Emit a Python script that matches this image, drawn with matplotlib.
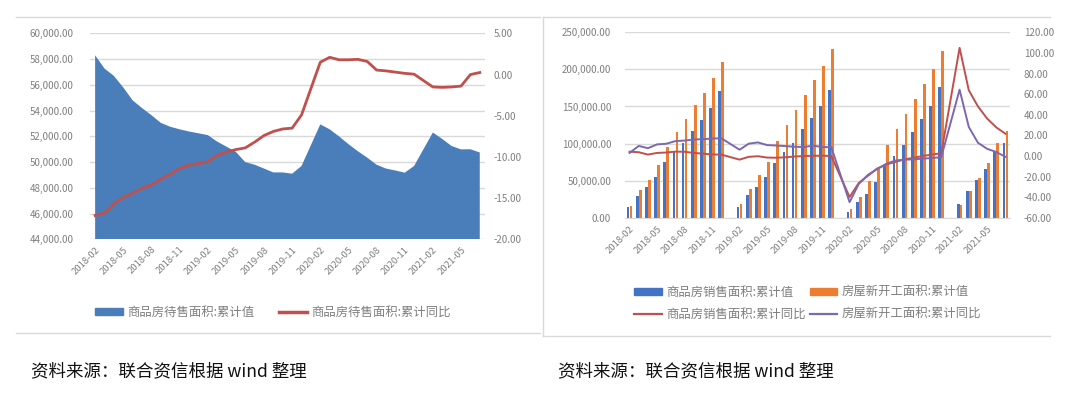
import matplotlib
matplotlib.use('Agg')
import matplotlib.pyplot as plt
import numpy as np
import pandas as pd
from matplotlib.lines import Line2D
from matplotlib.patches import Patch

plt.rcParams['font.family'] = ['Noto Sans CJK SC', 'DejaVu Sans']

# ---- categories: monthly 2018-02 .. 2021-07 (January has no data) ----
months = [p.strftime('%Y-%m') for p in pd.period_range('2018-02', '2021-07', freq='M')]
tick_months = ['2018-02', '2018-05', '2018-08', '2018-11', '2019-02', '2019-05', '2019-08',
               '2019-11', '2020-02', '2020-05', '2020-08', '2020-11', '2021-02', '2021-05']

N = None
# ---- left chart: 商品房待售面积 ----
stock_value = [58300, 57270, 56700, 55800, 54800, 54200, 53650, 53050, 52750, 52550, 52380,
               N,
               52100, 51600, 51200, 50800, 50000, 49800, 49500, 49200, 49200, 49100, 49700,
               N,
               52930, 52550, 52000, 51400, 50850, 50350, 49800, 49500, 49350, 49180, 49700,
               N,
               52300, 51800, 51250, 50990, 51000, 50750]
stock_yoy = [-17.1, -16.8, -15.7, -14.9, -14.4, -13.8, -13.4, -12.7, -12.1, -11.4, -11.0,
             N,
             -10.6, -9.8, -9.4, -9.1, -8.9, -8.2, -7.4, -6.9, -6.6, -6.5, -4.9,
             N,
             1.5, 2.1, 1.8, 1.8, 1.85, 1.6, 0.55, 0.45, 0.3, 0.15, 0.05,
             N,
             -1.5, -1.55, -1.5, -1.4, 0.0, 0.25]

# ---- right chart ----
sales_value = [14860, 29700, 41000, 55400, 75700, 88300, 100500, 117500, 132000, 147800, 170200,
               N,
               14400, 30200, 41400, 55000, 74300, 88700, 100500, 119400, 133800, 150000, 172100,
               N,
               8100, 21600, 32400, 48700, 69800, 83300, 97800, 116200, 132900, 150000, 175700,
               N,
               18000, 36500, 51500, 65300, 89200, 101000]
starts_value = [16000, 37000, 51000, 71000, 95000, 115000, 133000, 152500, 168500, 188500, 209500,
                N,
                18000, 38300, 58000, 75000, 104000, 125000, 145000, 165500, 186000, 204500, 227000,
                N,
                11300, 27500, 49000, 65300, 98500, 119000, 139700, 160000, 180200, 200500, 224400,
                N,
                17000, 36200, 53000, 74300, 101400, 117100]
sales_yoy = [4.1, 3.6, 1.3, 2.9, 3.3, 4.2, 4.0, 2.9, 2.2, 1.4, 1.3,
             N,
             -3.6, -0.9, -0.3, -1.6, -1.8, -1.3, -0.6, -0.1, 0.1, 0.2, -0.1,
             N,
             -39.9, -26.3, -19.3, -12.3, -8.4, -5.8, -3.3, -1.8, 0.0, 1.3, 2.6,
             N,
             104.9, 63.8, 48.1, 36.3, 27.7, 21.5]
starts_yoy = [2.9, 9.7, 7.5, 11.2, 11.8, 14.4, 14.9, 15.9, 16.3, 16.8, 17.2,
              N,
              6.0, 11.9, 13.1, 10.5, 10.1, 9.5, 8.9, 8.6, 10.0, 8.6, 8.5,
              N,
              -44.9, -27.2, -18.4, -12.8, -7.6, -4.5, -3.6, -3.4, -2.6, -2.0, -1.2,
              N,
              64.3, 28.2, 12.8, 6.9, 3.8, -0.9]

left_labels = ['商品房待售面积:累计值', '商品房待售面积:累计同比']
right_labels = ['商品房销售面积:累计值', '房屋新开工面积:累计值',
                '商品房销售面积:累计同比', '房屋新开工面积:累计同比']
source_text = '资料来源：联合资信根据 wind 整理'

GRID = '#d9d9d9'
TXT = '#7f7f7f'


def arr(v):
    return np.array([np.nan if t is None else t for t in v], dtype=float)


x = np.arange(len(months))
tick_pos = [months.index(m) for m in tick_months]

fig = plt.figure(figsize=(10.8, 3.93), dpi=100)


def style(ax):
    for s in ax.spines.values():
        s.set_visible(False)
    ax.tick_params(length=0, labelsize=7, labelcolor=TXT)


# ================= LEFT =================
axL = fig.add_axes([0.0833, 0.391, 0.3657, 0.524])
sv = arr(stock_value)
mk = ~np.isnan(sv)
axL.fill_between(x[mk], sv[mk], 0, color='#4a7ebb', lw=0, zorder=2)
axL.set_ylim(44000, 60000)
axL.set_xlim(-0.55, len(months) - 0.45)
yt = np.arange(44000, 60001, 2000)
axL.set_yticks(yt)
axL.set_yticklabels([f'{v:,.2f}' for v in yt])
axL.grid(axis='y', color=GRID, lw=1)
axL.set_axisbelow(True)
style(axL)
axL.tick_params(axis='y', pad=12)
axL.set_xticks(tick_pos)
axL.set_xticklabels(tick_months, rotation=45, ha='right', va='top', rotation_mode='anchor', fontsize=6.8)
axL.tick_params(axis='x', pad=4)

axL2 = axL.twinx()
yv = arr(stock_yoy)
mk2 = ~np.isnan(yv)
axL2.plot(x[mk2], yv[mk2], color='#c0504d', lw=2.0, zorder=3)
axL2.set_ylim(-20, 5)
yt2 = np.arange(-20, 5.01, 5)
axL2.set_yticks(yt2)
axL2.set_yticklabels([f'{v:.2f}' for v in yt2])
style(axL2)
axL2.tick_params(axis='y', pad=6)

hL = [Patch(color='#4a7ebb'), Line2D([], [], color='#c0504d', lw=2.5)]
fig.legend(hL, left_labels, loc='center', bbox_to_anchor=(0.253, 0.205), ncol=2,
           frameon=False, fontsize=8.9, labelcolor=TXT, handlelength=2.2, handleheight=0.55,
           columnspacing=2.0, handletextpad=0.4)

# ================= RIGHT =================
axR = fig.add_axes([0.5787, 0.446, 0.3565, 0.4718])
bw = 0.3
sa = arr(sales_value)
st = arr(starts_value)
axR.bar(x - 0.16, np.nan_to_num(sa), width=bw, color='#4472c4', zorder=2)
axR.bar(x + 0.16, np.nan_to_num(st), width=bw, color='#ed7d31', zorder=2)
axR.set_ylim(0, 250000)
axR.set_xlim(-0.5, len(months) - 0.5)
ytR = np.arange(0, 250001, 50000)
axR.set_yticks(ytR)
axR.set_yticklabels([f'{v:,.2f}' for v in ytR])
axR.grid(axis='y', color=GRID, lw=1)
axR.set_axisbelow(True)
style(axR)
axR.spines['bottom'].set_visible(True)
axR.spines['bottom'].set_color(GRID)
axR.tick_params(axis='y', pad=10)
axR.set_xticks(tick_pos)
axR.set_xticklabels(tick_months, rotation=45, ha='right', va='top', rotation_mode='anchor', fontsize=6.8)
axR.tick_params(axis='x', pad=5)

axR2 = axR.twinx()
sy = arr(sales_yoy)
sty = arr(starts_yoy)
m3 = ~np.isnan(sy)
m4 = ~np.isnan(sty)
axR2.plot(x[m3], sy[m3], color='#c0504d', lw=1.4, zorder=3)
axR2.plot(x[m4], sty[m4], color='#7b68b0', lw=1.4, zorder=3)
axR2.set_ylim(-60, 120)
ytR2 = np.arange(-60, 120.01, 20)
axR2.set_yticks(ytR2)
axR2.set_yticklabels([f'{v:.2f}' for v in ytR2])
style(axR2)
axR2.tick_params(axis='y', pad=10)

hR = [Patch(color='#4472c4'), Line2D([], [], color='#c0504d', lw=1.6),
      Patch(color='#ed7d31'), Line2D([], [], color='#7b68b0', lw=1.6)]
lR = [right_labels[0], right_labels[2], right_labels[1], right_labels[3]]
fig.legend(hR, lR, loc='center', bbox_to_anchor=(0.748, 0.228), ncol=2,
           frameon=False, fontsize=8.9, labelcolor=TXT, handlelength=2.2, handleheight=0.55,
           columnspacing=0.3, handletextpad=0.4, labelspacing=0.75)

# ================= frames & captions =================
fc = '#d9d9d9'
fig.add_artist(Line2D([0.015, 0.5], [0.957, 0.957], color=fc, lw=1))
fig.add_artist(Line2D([0.015, 0.5], [0.153, 0.153], color=fc, lw=1))
fig.add_artist(Line2D([0.503, 0.972], [0.957, 0.957], color=fc, lw=1))
fig.add_artist(Line2D([0.503, 0.972], [0.145, 0.145], color=fc, lw=1))
fig.add_artist(Line2D([0.503, 0.503], [0.145, 0.957], color=fc, lw=1))

fig.text(0.029, 0.055, source_text, fontsize=12.6, color='#111111', va='center', ha='left')
fig.text(0.517, 0.055, source_text, fontsize=12.6, color='#111111', va='center', ha='left')

fig.savefig('out.png', dpi=100)
